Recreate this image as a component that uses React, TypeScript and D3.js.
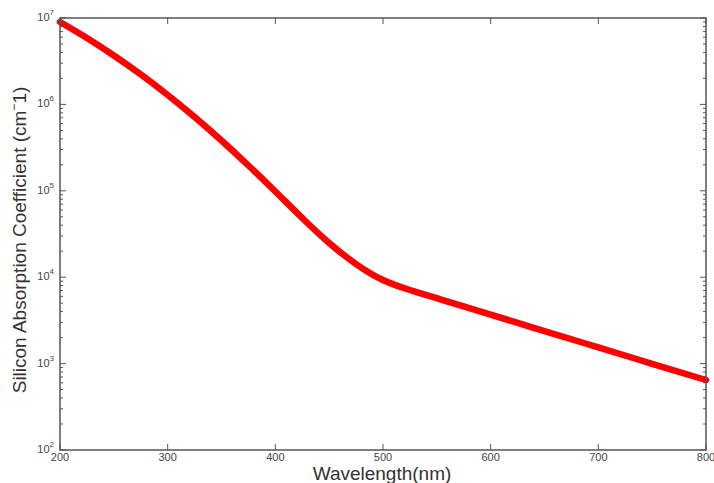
import React from "react";
import * as d3 from "d3";

const wavelengths = [200, 225, 250, 275, 300, 325, 350, 375, 400, 425, 450, 475, 500, 525, 550, 575, 600, 650, 700, 750, 800];
const absorption = [8.99e6, 5.87e6, 3.68e6, 2.22e6, 1.285e6, 7.15e5, 3.82e5, 1.963e5, 9.81e4, 4.84e4, 2.49e4, 1.42e4, 9.28e3, 7.11e3, 5.71e3, 4.59e3, 3.69e3, 2.38e3, 1.54e3, 9.95e2, 6.46e2];
const xTicks = [200, 300, 400, 500, 600, 700, 800];
const yExponents = [2, 3, 4, 5, 6, 7];

const W = 714, H = 483;
const L = 60, R = 706, T = 18, B = 450;

export default function App() {
  const x = d3.scaleLinear().domain([200, 800]).range([L, R]);
  const y = d3.scaleLog().domain([1e2, 1e7]).range([B, T]);
  const data = wavelengths.map((w, i) => [w, absorption[i]] as [number, number]);
  const line = d3.line<[number, number]>()
    .x(d => x(d[0]))
    .y(d => y(d[1]))
    .curve(d3.curveNatural);

  const minor: number[] = [];
  for (let e = 2; e < 7; e++) for (let m = 2; m <= 9; m++) minor.push(m * Math.pow(10, e));

  const axisColor = "#555";
  const textColor = "#444";
  const font = "'Liberation Sans', Arial, Helvetica, sans-serif";

  return (
    <svg width={W} height={H} style={{ position: "absolute", left: 0, top: 0, background: "#fff" }} fontFamily={font}>
      <rect x={0} y={0} width={W} height={H} fill="#fff" />
      <path d={line(data) || ""} fill="none" stroke="#ff0000" strokeWidth={6.5} strokeLinejoin="round" strokeLinecap="round" />
      <rect x={L} y={T} width={R - L} height={B - T} fill="none" stroke={axisColor} strokeWidth={1.5} />
      {xTicks.map(t => (
        <g key={"x" + t}>
          <line x1={x(t)} x2={x(t)} y1={B} y2={B - 6} stroke={axisColor} strokeWidth={1} />
          <line x1={x(t)} x2={x(t)} y1={T} y2={T + 6} stroke={axisColor} strokeWidth={1} />
          <text x={x(t)} y={B + 11} textAnchor="middle" fontSize={11} fill={textColor}>{t}</text>
        </g>
      ))}
      {yExponents.map(e => (
        <g key={"y" + e}>
          <line x1={L} x2={L + 6} y1={y(Math.pow(10, e))} y2={y(Math.pow(10, e))} stroke={axisColor} strokeWidth={1} />
          <line x1={R} x2={R - 6} y1={y(Math.pow(10, e))} y2={y(Math.pow(10, e))} stroke={axisColor} strokeWidth={1} />
          <text x={L - 6} y={y(Math.pow(10, e)) + 3} textAnchor="end" fontSize={11} fill={textColor}>
            10<tspan fontSize={8} dy={-6}>{e}</tspan>
          </text>
        </g>
      ))}
      {minor.map(v => (
        <g key={"m" + v}>
          <line x1={L} x2={L + 3} y1={y(v)} y2={y(v)} stroke={axisColor} strokeWidth={1} />
          <line x1={R} x2={R - 3} y1={y(v)} y2={y(v)} stroke={axisColor} strokeWidth={1} />
        </g>
      ))}
      <text x={382} y={480} textAnchor="middle" fontSize={19} fill="#333">Wavelength(nm)</text>
      <text transform={`translate(26,${(T + B) / 2 + 6}) rotate(-90)`} textAnchor="middle" fontSize={19} fill="#333">
        Silicon Absorption Coefficient (cm<tspan fontSize={12} dy={-8}>{"\u2212"}</tspan><tspan dy={8}>1)</tspan>
      </text>
    </svg>
  );
}
